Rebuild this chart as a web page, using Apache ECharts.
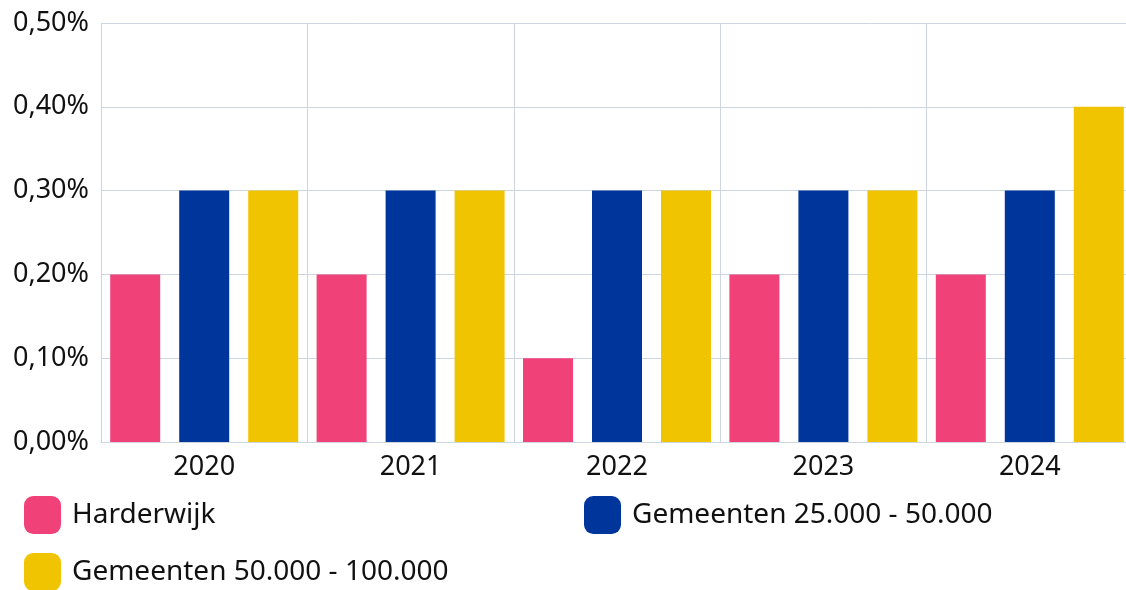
<!DOCTYPE html>
<html>
<head>
<meta charset="utf-8">
<script src="https://cdn.jsdelivr.net/npm/echarts@6/dist/echarts.min.js"></script>
<style>
  html, body { margin: 0; padding: 0; background: #fff; overflow: hidden; }
  #chart { width: 1126px; height: 590px; }
</style>
</head>
<body>
<div id="chart"></div>
<script>
const years = ['2020', '2021', '2022', '2023', '2024'];
const harderwijk = [0.2, 0.2, 0.1, 0.2, 0.2];
const gem25to50 = [0.3, 0.3, 0.3, 0.3, 0.3];
const gem50to100 = [0.3, 0.3, 0.3, 0.3, 0.4];
const seriesNames = ['Harderwijk', 'Gemeenten 25.000 - 50.000', 'Gemeenten 50.000 - 100.000'];
const colors = ['#f04178', '#00359c', '#f0c400'];

const font = '"Noto Sans", sans-serif';
const gridColor = '#cdd5e0';

const chart = echarts.init(document.getElementById('chart'));

const legendBase = {
  icon: 'roundRect',
  itemWidth: 37,
  itemHeight: 38,
  padding: 0,
  textStyle: { fontFamily: font, fontSize: 28, color: '#111', padding: [10, 0, 0, 6] }
};

chart.setOption({
  animation: false,
  color: colors,
  grid: { left: 101, top: 23, width: 1032, bottom: 148, outerBoundsMode: 'none' },
  legend: [
    Object.assign({ data: [seriesNames[0]], left: 24, top: 496 }, legendBase),
    Object.assign({ data: [seriesNames[1]], left: 584, top: 496 }, legendBase),
    Object.assign({ data: [seriesNames[2]], left: 24, top: 553 }, legendBase)
  ],
  xAxis: {
    type: 'category',
    data: years,
    axisLine: { lineStyle: { color: gridColor } },
    axisTick: { show: false },
    splitLine: { show: true, lineStyle: { color: gridColor } },
    axisLabel: { fontFamily: font, fontSize: 27, color: '#111', margin: 12 }
  },
  yAxis: {
    type: 'value',
    min: 0,
    max: 0.5,
    interval: 0.1,
    axisLine: { show: false },
    splitLine: { lineStyle: { color: gridColor } },
    axisLabel: {
      fontFamily: font, fontSize: 27, color: '#111', margin: 12,
      formatter: function (v) { return v.toFixed(2).replace('.', ',') + '%'; }
    }
  },
  series: [
    { name: seriesNames[0], type: 'bar', data: harderwijk, barWidth: 50, barGap: '38%' },
    { name: seriesNames[1], type: 'bar', data: gem25to50, barWidth: 50, barGap: '38%' },
    { name: seriesNames[2], type: 'bar', data: gem50to100, barWidth: 50, barGap: '38%' }
  ]
});
</script>
</body>
</html>
